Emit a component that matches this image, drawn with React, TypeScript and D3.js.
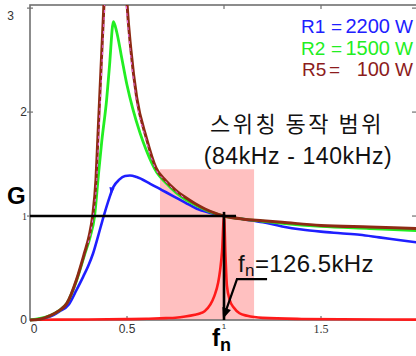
import React from 'react';
import * as d3 from 'd3';

// LLC gain curves, normalised frequency fn vs gain G
const xTicks = [0, 0.5, 1, 1.5];
const yTicks = [0, 1, 2, 3];

const legendNames = ['R1', 'R2', 'R5'];
const legendValues = ['2200', '1500', '100'];
const legendColors = ['#2020ff', '#22ee22', '#8c1c1c'];

const blueCurve: [number, number][] = [
  [0, 0], [0.1, 0.03], [0.15, 0.08], [0.2, 0.15], [0.24, 0.29], [0.275, 0.42], [0.3, 0.52],
  [0.325, 0.64], [0.35, 0.8], [0.38, 1.0], [0.41, 1.18], [0.43, 1.28], [0.46, 1.35],
  [0.49, 1.385], [0.515, 1.39], [0.55, 1.375], [0.62, 1.31], [0.68, 1.25], [0.74, 1.19],
  [0.8, 1.13], [0.86, 1.07], [0.93, 1.03], [1, 1.0], [1.1, 0.97], [1.2, 0.94], [1.3, 0.9],
  [1.4, 0.87], [1.5, 0.85], [1.6, 0.835], [1.7, 0.82], [1.8, 0.795], [1.9, 0.77], [2, 0.745],
];

const greenCurve: [number, number][] = [
  [0, 0], [0.1, 0.04], [0.15, 0.09], [0.19, 0.16], [0.24, 0.38], [0.28, 0.62], [0.31, 0.8],
  [0.333, 1.0], [0.352, 1.38], [0.37, 1.72], [0.395, 2.12], [0.41, 2.45], [0.43, 2.87],
  [0.447, 2.77], [0.47, 2.55], [0.5, 2.26], [0.53, 2.03], [0.567, 1.8], [0.6, 1.63],
  [0.653, 1.42], [0.7, 1.32], [0.75, 1.23], [0.8, 1.16], [0.86, 1.1], [0.93, 1.04], [1, 1.0],
  [1.1, 0.97], [1.2, 0.95], [1.3, 0.93], [1.5, 0.9], [1.75, 0.88], [2, 0.86],
];

const brownCurve: [number, number][] = [
  [0, 0], [0.05, 0.008], [0.1, 0.04], [0.15, 0.09], [0.19, 0.16], [0.24, 0.39], [0.28, 0.64],
  [0.305, 0.81], [0.323, 1.0], [0.34, 1.35], [0.35, 1.76], [0.36, 2.17], [0.37, 2.58],
  [0.38, 2.99], [0.4, 3.9], [0.44, 5.0], [0.48, 3.9], [0.5, 3.05], [0.52, 2.6], [0.55, 2.14],
  [0.6, 1.75], [0.65, 1.46], [0.7, 1.34], [0.75, 1.25], [0.8, 1.18], [0.85, 1.12],
  [0.9, 1.07], [0.95, 1.03], [1, 1.0], [1.1, 0.97], [1.2, 0.955], [1.3, 0.94], [1.5, 0.91],
  [1.75, 0.895], [2, 0.88],
];

const magentaCurve: [number, number][] = [
  [0.3, 0.74], [0.323, 0.96], [0.344, 1.35], [0.354, 1.76], [0.364, 2.17], [0.374, 2.58],
  [0.384, 2.99], [0.404, 3.9], [0.44, 4.8], [0.476, 3.9], [0.496, 3.05], [0.516, 2.6],
  [0.546, 2.14], [0.596, 1.75], [0.646, 1.46], [0.696, 1.34], [0.75, 1.24], [0.8, 1.17],
];

const redCurve: [number, number][] = [
  [0.02, 0.003], [0.3, 0.005], [0.5, 0.008], [0.6, 0.012], [0.7, 0.018], [0.75, 0.022],
  [0.8, 0.033], [0.85, 0.05], [0.875, 0.062], [0.9, 0.085], [0.93, 0.15], [0.95, 0.23],
  [0.97, 0.36], [0.98, 0.48], [0.99, 0.66], [1, 1.0], [1.008, 0.6], [1.015, 0.33],
  [1.03, 0.19], [1.05, 0.12], [1.08, 0.065], [1.12, 0.04], [1.2, 0.02], [1.4, 0.01],
  [1.6, 0.007], [2, 0.004],
];

// switching range band (84kHz .. 140kHz) and resonance marker
const bandFn = [0.67, 1.155];
const bandTop = 1.45;
const resonanceFn = 1;
const leader: [number, number][] = [[1.222, 0.394], [1.067, 0.394], [0.995, 0.01]];
const blueMarker: [number, number] = [0.425, 1.25];

export default function App() {
  const width = 416;
  const height = 356;
  const left = 30, top = 5, right = 418, bottom = 320;

  const x = d3.scaleLinear().domain([0, 2]).range([left, right]);
  const y = d3.scaleLinear().domain([0, 3.03]).range([bottom, top]);

  const line = d3.line<[number, number]>()
    .x(d => x(d[0]))
    .y(d => y(d[1]))
    .curve(d3.curveMonotoneX);

  const curves = [
    { data: redCurve, color: '#ff1a1a', w: 2.6, dash: undefined },
    { data: blueCurve, color: '#1f1fff', w: 2.6, dash: undefined },
    { data: greenCurve, color: '#22ee22', w: 2.8, dash: undefined },
    { data: brownCurve, color: '#8e2a14', w: 3, dash: undefined },
    { data: magentaCurve, color: '#ee66ee', w: 1, dash: '3,4' },
  ];

  const tipX = x(leader[2][0]);
  const tipY = y(leader[2][1]);
  const elbowX = x(leader[1][0]);
  const elbowY = y(leader[1][1]);
  const ang = Math.atan2(tipY - elbowY, tipX - elbowX);
  const ah = 11, aw = 4.5;
  const arrowHead = [
    [tipX, tipY],
    [tipX - ah * Math.cos(ang) + aw * Math.sin(ang), tipY - ah * Math.sin(ang) - aw * Math.cos(ang)],
    [tipX - ah * Math.cos(ang) - aw * Math.sin(ang), tipY - ah * Math.sin(ang) + aw * Math.cos(ang)],
  ].map(p => p.join(',')).join(' ');

  const mx = x(blueMarker[0]), my = y(blueMarker[1]);

  const sans = 'Arial, "Liberation Sans", Helvetica, sans-serif';
  const serif = '"Liberation Serif", "Times New Roman", serif';

  return (
    <svg width={width} height={height} style={{ position: 'absolute', left: 0, top: 0, background: '#fff' }}>
      <defs>
        <clipPath id="plot-clip">
          <rect x={left} y={top} width={right - left} height={bottom - top + 2} />
        </clipPath>
      </defs>

      {/* switching range */}
      <rect
        x={x(bandFn[0])}
        y={y(bandTop)}
        width={x(bandFn[1]) - x(bandFn[0])}
        height={y(0) - y(bandTop)}
        fill="#ffc0c0"
      />

      {/* frame */}
      <rect x={left} y={top} width={right - left} height={bottom - top} fill="none" stroke="#707070" strokeWidth={1.6} />
      {xTicks.filter(t => t > 0).map(t => (
        <g key={t}>
          <line x1={x(t)} x2={x(t)} y1={top} y2={top + 4} stroke="#707070" strokeWidth={1.2} />
          <line x1={x(t)} x2={x(t)} y1={bottom} y2={bottom - 4} stroke="#707070" strokeWidth={1.2} />
        </g>
      ))}
      {yTicks.filter(t => t > 0).map(t => (
        <g key={t}>
          <line x1={left - 3} x2={left + 3} y1={y(t)} y2={y(t)} stroke="#707070" strokeWidth={1.2} />
          <line x1={right - 6} x2={right} y1={y(t)} y2={y(t)} stroke="#707070" strokeWidth={1.2} />
        </g>
      ))}

      {/* curves */}
      <g clipPath="url(#plot-clip)">
        {curves.map((c, i) => (
          <path key={i} d={line(c.data) || ''} fill="none" stroke={c.color} strokeWidth={c.w}
            strokeDasharray={c.dash} strokeLinejoin="round" />
        ))}
        <polygon points={`${mx - 3},${my - 3} ${mx + 2},${my - 2} ${mx - 1.5},${my + 5}`} fill="#1f1fff" />
      </g>

      {/* G = 1 and fn markers */}
      <line x1={x(0)} x2={x(1.062)} y1={y(1)} y2={y(1)} stroke="#000" strokeWidth={2.4} />
      <line x1={x(resonanceFn)} x2={x(resonanceFn)} y1={y(1.04)} y2={y(0)} stroke="#000" strokeWidth={2.6} />

      {/* leader arrow */}
      <polyline points={leader.slice(0, 2).map(p => `${x(p[0])},${y(p[1])}`).join(' ') + ` ${tipX - 8 * Math.cos(ang)},${tipY - 8 * Math.sin(ang)}`}
        fill="none" stroke="#000" strokeWidth={2.2} />
      <polygon points={arrowHead} fill="#000" />

      {/* tick labels */}
      {xTicks.map(t => (
        <text key={t} x={x(t) + (t === 0 ? 4 : 0)} y={t === 1 ? 329 : 333} textAnchor="middle"
          fontFamily={t === 1.5 ? serif : sans} fontSize={t === 1 ? 8 : 12} fill="#333">{t}</text>
      ))}
      {yTicks.map(t => (
        <text key={t} x={t === 3 ? 14 : 27} y={t === 3 ? 20 : y(t) + 4} textAnchor="end"
          fontFamily={t === 1 ? serif : sans} fontSize={t === 1 ? 10 : 12} fill="#333">{t}</text>
      ))}

      {/* axis letters */}
      <text x={7} y={204} fontFamily={sans} fontWeight="bold" fontSize={24} fill="#000">G</text>
      <text x={212} y={346} fontFamily={sans} fontWeight="bold" fontSize={24} fill="#000">
        f<tspan fontSize={18} dy={5}>n</tspan>
      </text>

      {/* legend */}
      {legendNames.map((n, i) => {
        const by = 33 + i * 21.5;
        return (
          <g key={n} fill={legendColors[i]} fontFamily={sans} fontSize={19}>
            <text x={i === 2 ? 302 : 301} y={by}>{n}</text>
            <text x={i === 2 ? 329 : 331} y={by}>=</text>
            <text x={390} y={by} textAnchor="end" fontSize={20}>{legendValues[i]}</text>
            <text x={395} y={by}>W</text>
          </g>
        );
      })}

      {/* switching range label */}
      <text x={297} y={132} textAnchor="middle" fontFamily='"Noto Sans CJK KR", sans-serif' fontSize={22} fill="#111" letterSpacing={2.5}>
        스위칭 동작 범위
      </text>
      <text x={298} y={164} textAnchor="middle" fontFamily={sans} fontSize={23} fill="#111" letterSpacing={0.6}>
        (84kHz - 140kHz)
      </text>

      {/* resonance label */}
      <text x={238} y={272} fontFamily={sans} fontSize={24} fill="#111" letterSpacing={0.4}>
        f<tspan fontSize={17} dy={4}>n</tspan><tspan dy={-4}>=126.5kHz</tspan>
      </text>
    </svg>
  );
}
